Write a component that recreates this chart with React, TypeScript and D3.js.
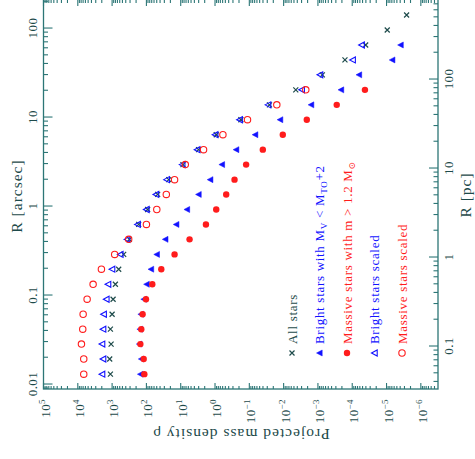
import React from 'react';
import * as d3 from 'd3';

// Projected radius of each bin (arcsec)
const radiusArcsec = [0.0129, 0.0191, 0.0281, 0.0413, 0.0608, 0.0897, 0.132, 0.195, 0.286, 0.422, 0.621, 0.914, 1.35, 1.98, 2.92, 4.30, 6.33, 9.33, 13.7, 20.2, 29.8, 43.8, 64.5, 95.0, 140];
// Projected mass density per series
const allStars = [1120, 1175, 1070, 1120, 1000, 936, 803, 643, 460, 314, 168, 92.2, 47.1, 22.3, 8.59, 3.02, 0.922, 0.176, 0.0259, 0.00442, 7.43e-4, 1.63e-4, 4.06e-5, 9.54e-6, 2.60e-6];
const brightStars = [150, 141, 161, 155, 145, 119, 98.6, 73.4, 49.8, 28.1, 13.5, 6.57, 3.02, 1.38, 0.630, 0.242, 0.0676, 0.01265, 1.58e-3, 2.12e-4, 6.35e-5, 6.82e-6, 3.89e-6];
const massiveStars = [115, 120, 150, 141, 129, 103, 67.3, 36.8, 15.1, 5.52, 1.84, 0.922, 0.472, 0.270, 0.124, 0.0404, 0.01057, 2.11e-3, 2.83e-4, 4.26e-5];
const brightScaled = [1960, 1830, 1960, 1830, 1760, 1470, 1310, 1000, 574, 366, 180, 100, 52.5, 25.5, 9.02, 3.30, 0.987, 0.191, 0.0283, 2.96e-3, 8.67e-4, 9.70e-5, 5.31e-5];
const massiveScaled = [6710, 6710, 7830, 7180, 6990, 5350, 3580, 2050, 841, 329, 100, 49.8, 26.3, 15.1, 7.36, 2.16, 0.589, 0.113, 0.0158, 2.26e-3];

// Axes
const arcsecTicks = [0.01, 0.1, 1, 10, 100];
const arcsecLabels = ['0.01', '0.1', '1', '10', '100'];
const pcTicks = [0.1, 1, 10, 100];
const pcLabels = ['0.1', '1', '10', '100'];
const rhoExponents = [5, 4, 3, 2, 1, 0, -1, -2, -3, -4, -5, -6];
const pcPerArcsec = 3.74;
const arcsecDomain = [0.00879, 212];
const rhoDomain = [1e5, 3.16e-7];

const AXIS = '#2c7676';
const LABEL = '#1d4a4a';
const BLUE = '#1212ff';
const RED = '#ff1c1c';
const DARK = '#1e4b4b';
const FONT = '"Liberation Serif", "DejaVu Serif", serif';

const L = 43.5, R = 438, T = -1, B = 389;

function minorValues(lo: number, hi: number) {
  const a = Math.min(lo, hi), b = Math.max(lo, hi);
  const out: { v: number; major: boolean }[] = [];
  for (let d = Math.floor(Math.log10(a)) - 1; d <= Math.ceil(Math.log10(b)); d++) {
    for (let m = 1; m <= 9; m++) {
      const v = m * Math.pow(10, d);
      if (v >= a * 0.999 && v <= b * 1.001) out.push({ v, major: m === 1 });
    }
  }
  return out;
}

function Marker({ kind, x, y }: { kind: string; x: number; y: number }) {
  const s = 3;
  if (kind === 'cross')
    return <path d={`M${x - 2.5},${y - 2.5}L${x + 2.5},${y + 2.5}M${x - 2.5},${y + 2.5}L${x + 2.5},${y - 2.5}`} stroke={DARK} strokeWidth={1.2} fill="none" />;
  if (kind === 'ftri')
    return <path d={`M${x - s},${y}L${x + s * 0.9},${y - s}L${x + s * 0.9},${y + s}Z`} fill={BLUE} stroke={BLUE} strokeWidth={0.5} />;
  if (kind === 'otri')
    return <path d={`M${x - s},${y}L${x + s * 0.9},${y - s}L${x + s * 0.9},${y + s}Z`} fill="none" stroke={BLUE} strokeWidth={1.1} />;
  if (kind === 'fcirc')
    return <circle cx={x} cy={y} r={3.2} fill={RED} />;
  return <circle cx={x} cy={y} r={3.2} fill="none" stroke={RED} strokeWidth={1.1} />;
}

const series = [
  { data: allStars, kind: 'cross' },
  { data: brightStars, kind: 'ftri' },
  { data: massiveStars, kind: 'fcirc' },
  { data: brightScaled, kind: 'otri' },
  { data: massiveScaled, kind: 'ocirc' },
];

export default function App() {
  const x = d3.scaleLog().domain(rhoDomain).range([L, R]);
  const y = d3.scaleLog().domain(arcsecDomain).range([B, T]);
  const yPc = d3.scaleLog().domain([arcsecDomain[0] * pcPerArcsec, arcsecDomain[1] * pcPerArcsec]).range([B, T]);

  const rhoMinor = minorValues(rhoDomain[0], rhoDomain[1]);
  const arcMinor = minorValues(arcsecDomain[0], arcsecDomain[1]);
  const pcMinor = minorValues(arcsecDomain[0] * pcPerArcsec, arcsecDomain[1] * pcPerArcsec);

  const legendX = [292, 319.5, 347, 374.5, 402];
  const legendMarkerY = 353;
  const legendTextY = 344;

  return (
    <svg width={475} height={459} style={{ position: 'absolute', left: 0, top: 0, background: '#fff' }} fontFamily={FONT}>
      {/* ticks */}
      <g stroke={AXIS} strokeWidth={1.1}>
        {rhoMinor.map((t, i) => {
          const xx = x(t.v);
          const len = t.major ? 6 : 3;
          return (
            <g key={'r' + i}>
              <line x1={xx} x2={xx} y1={B} y2={B - len} />
              <line x1={xx} x2={xx} y1={T} y2={T + len + 1} />
            </g>
          );
        })}
        {arcMinor.map((t, i) => {
          const yy = y(t.v);
          return <line key={'a' + i} x1={L} x2={L + (t.major ? 9 : 4.5)} y1={yy} y2={yy} />;
        })}
        {pcMinor.map((t, i) => {
          const yy = yPc(t.v);
          return <line key={'p' + i} x1={R} x2={R - (t.major ? 9 : 4.5)} y1={yy} y2={yy} />;
        })}
      </g>
      <rect x={L} y={T} width={R - L} height={B - T} fill="none" stroke={AXIS} strokeWidth={1.3} />

      {/* data */}
      {series.map((s, si) => (
        <g key={si}>
          {s.data.map((v, i) => (
            <Marker key={i} kind={s.kind} x={x(v)} y={y(radiusArcsec[i])} />
          ))}
        </g>
      ))}

      {/* tick labels */}
      <g fill={LABEL} fontSize={13} letterSpacing={0.4}>
        {arcsecTicks.map((v, i) => (
          <text key={'al' + i} transform={`translate(32,${y(v)}) rotate(-90)`} textAnchor="middle" dy="0.35em">{arcsecLabels[i]}</text>
        ))}
        {pcTicks.map((v, i) => (
          <text key={'pl' + i} transform={`translate(448.5,${yPc(v)}) rotate(-90)`} textAnchor="middle" dy="0.35em">{pcLabels[i]}</text>
        ))}
        {rhoExponents.map((e, i) => (
          <text key={'rl' + i} transform={`translate(${x(Math.pow(10, e)) + 1.5},399) rotate(-90)`} textAnchor="end" dy="0.35em">
            10<tspan fontSize={9} dy={-5}>{e < 0 ? '\u2212' + Math.abs(e) : String(e)}</tspan>
          </text>
        ))}
      </g>

      {/* axis titles */}
      <g fill={LABEL} fontSize={15.5} letterSpacing={1}>
        <text transform={`translate(17,196) rotate(-90)`} textAnchor="middle" dy="0.35em">R [arcsec]</text>
        <text transform={`translate(466,195) rotate(-90)`} textAnchor="middle" dy="0.35em">R [pc]</text>
        <text transform={`translate(241,434) rotate(180)`} textAnchor="middle" dy="0.35em">Projected mass density ρ</text>
      </g>

      {/* legend */}
      <g fontSize={13} letterSpacing={0.7}>
        {['cross', 'ftri', 'fcirc', 'otri', 'ocirc'].map((k, i) => (
          <Marker key={'lm' + i} kind={k} x={legendX[i]} y={legendMarkerY} />
        ))}
        <text transform={`translate(${legendX[0]},${legendTextY}) rotate(-90)`} dy="0.35em" fill={DARK}>All stars</text>
        <text transform={`translate(${legendX[1]},${legendTextY}) rotate(-90)`} dy="0.35em" fill={BLUE}>
          Bright stars with M<tspan fontSize={9} dy={3}>V</tspan><tspan dy={-3}> &lt; M</tspan><tspan fontSize={9} dy={3}>TO</tspan><tspan dy={-3}>+2</tspan>
        </text>
        <text transform={`translate(${legendX[2]},${legendTextY}) rotate(-90)`} dy="0.35em" fill={RED}>
          Massive stars with m &gt; 1.2 M<tspan fontSize={9} dy={3}>⊙</tspan>
        </text>
        <text transform={`translate(${legendX[3]},${legendTextY}) rotate(-90)`} dy="0.35em" fill={BLUE}>Bright stars scaled</text>
        <text transform={`translate(${legendX[4]},${legendTextY}) rotate(-90)`} dy="0.35em" fill={RED}>Massive stars scaled</text>
      </g>
    </svg>
  );
}
